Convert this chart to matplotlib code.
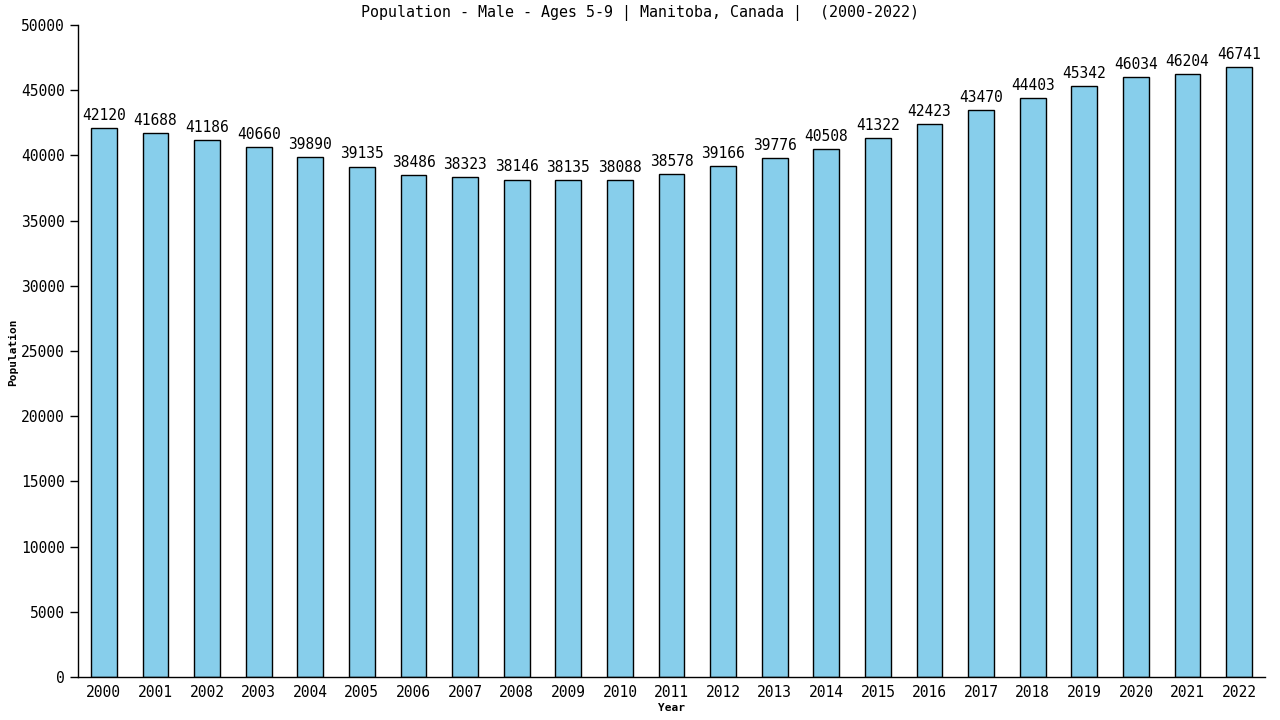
import matplotlib
matplotlib.use("Agg")
import matplotlib.pyplot as plt

years = [str(y) for y in range(2000, 2023)]
values = [42120, 41688, 41186, 40660, 39890, 39135, 38486, 38323, 38146, 38135,
          38088, 38578, 39166, 39776, 40508, 41322, 42423, 43470, 44403, 45342,
          46034, 46204, 46741]
yticks = list(range(0, 50001, 5000))

plt.rcParams['font.family'] = ['DejaVu Sans Mono']

fig = plt.figure(figsize=(12.8, 7.2), dpi=100)
ax = fig.add_axes([78/1280, 1 - 677/720, (1265-78)/1280, (677-25)/720])

x = list(range(len(years)))
ax.bar(x, values, width=0.5, color='#87CEEB', edgecolor='black', linewidth=1)
for xi, v in zip(x, values):
    ax.text(xi, v + 400, str(v), ha='center', va='bottom', fontsize=10.5)

ax.set_xlim(-0.5, len(years) - 0.5)
ax.set_ylim(0, 50000)
ax.set_xticks(x)
ax.set_xticklabels(years, fontsize=10.5)
ax.set_yticks(yticks)
ax.set_yticklabels([str(t) for t in yticks], fontsize=10.5)
ax.tick_params(axis='x', length=0, pad=6)
ax.tick_params(axis='y', length=6, width=1)
for s in ['top', 'right']:
    ax.spines[s].set_visible(False)
for s in ['left', 'bottom']:
    ax.spines[s].set_linewidth(1)

fig.text(0.5, 1 - 13/720, 'Population - Male - Ages 5-9 | Manitoba, Canada |  (2000-2022)',
         fontsize=10.8, ha='center', va='center')
fig.text((78 + 1265) / 2 / 1280, 1 - 708/720, 'Year', fontsize=8, fontweight='bold',
         ha='center', va='center')
fig.text(13/1280, 1 - 352/720, 'Population', fontsize=8, fontweight='bold',
         ha='center', va='center', rotation=90)

fig.savefig('out.png', dpi=100)
